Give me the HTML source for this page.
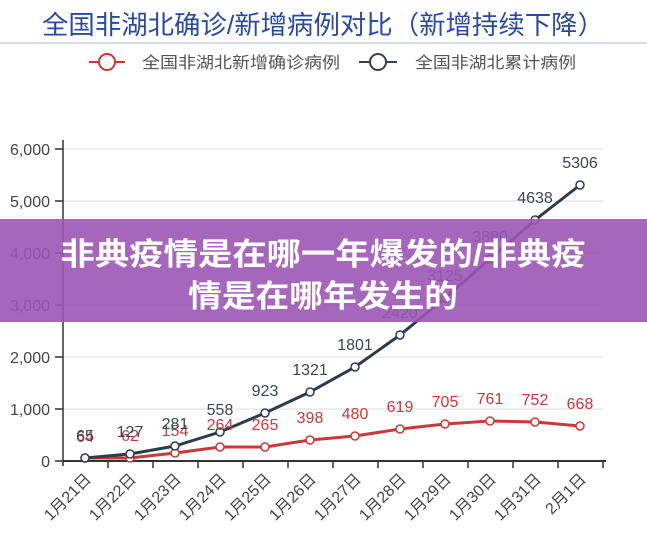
<!DOCTYPE html><html><head><meta charset="utf-8"><style>body{margin:0;width:647px;height:542px;overflow:hidden;background:#fff;font-family:"Liberation Sans","Noto Sans CJK SC",sans-serif}</style></head><body>
<svg width="647" height="542" xmlns="http://www.w3.org/2000/svg" font-family="Liberation Sans, Noto Sans CJK SC, sans-serif">
<rect width="647" height="542" fill="#fff"/>
<text x="323" y="34" text-anchor="middle" font-size="26" fill="#2b4a9b" textLength="562" lengthAdjust="spacingAndGlyphs">全国非湖北确诊/新增病例对比（新增持续下降）</text>
<line x1="0" y1="43" x2="647" y2="43" stroke="#c9d3e3" stroke-width="1.5"/>
<line x1="89" y1="62" x2="125" y2="62" stroke="#c83a3a" stroke-width="2"/><circle cx="107" cy="62" r="8" fill="#fff" stroke="#c83a3a" stroke-width="2"/>
<text x="142" y="68" font-size="16" fill="#555" textLength="198" lengthAdjust="spacingAndGlyphs">全国非湖北新增确诊病例</text>
<line x1="359" y1="62" x2="397" y2="62" stroke="#34404d" stroke-width="2"/><circle cx="378" cy="62" r="8" fill="#fff" stroke="#34404d" stroke-width="2"/>
<text x="415" y="68" font-size="16" fill="#555" textLength="161" lengthAdjust="spacingAndGlyphs">全国非湖北累计病例</text>
<g stroke="#ddd" stroke-width="1"><line x1="63" y1="149" x2="603" y2="149"/><line x1="63" y1="201" x2="603" y2="201"/><line x1="63" y1="253" x2="603" y2="253"/><line x1="63" y1="305" x2="603" y2="305"/><line x1="63" y1="357" x2="603" y2="357"/><line x1="63" y1="409" x2="603" y2="409"/></g>
<g font-size="16" fill="#444" text-anchor="end"><text x="50" y="155">6,000</text><text x="50" y="207">5,000</text><text x="50" y="259">4,000</text><text x="50" y="311">3,000</text><text x="50" y="363">2,000</text><text x="50" y="415">1,000</text><text x="50" y="467">0</text></g>
<g stroke="#333" stroke-width="1.5"><line x1="63" y1="140" x2="63" y2="466"/><line x1="55" y1="149" x2="63" y2="149"/><line x1="55" y1="201" x2="63" y2="201"/><line x1="55" y1="253" x2="63" y2="253"/><line x1="55" y1="305" x2="63" y2="305"/><line x1="55" y1="357" x2="63" y2="357"/><line x1="55" y1="409" x2="63" y2="409"/><line x1="55" y1="461" x2="63" y2="461"/>
<line x1="63" y1="461" x2="606" y2="461" stroke-width="2"/>
<line x1="108" y1="461" x2="108" y2="468"/><line x1="153" y1="461" x2="153" y2="468"/><line x1="198" y1="461" x2="198" y2="468"/><line x1="243" y1="461" x2="243" y2="468"/><line x1="288" y1="461" x2="288" y2="468"/><line x1="333" y1="461" x2="333" y2="468"/><line x1="378" y1="461" x2="378" y2="468"/><line x1="423" y1="461" x2="423" y2="468"/><line x1="468" y1="461" x2="468" y2="468"/><line x1="513" y1="461" x2="513" y2="468"/><line x1="558" y1="461" x2="558" y2="468"/><line x1="603" y1="461" x2="603" y2="468"/></g>
<polyline fill="none" stroke="#c83a3a" stroke-width="3" points="85,458 130,458 175,453 220,447 265,447 310,440 355,436 400,429 445,424 490,421 535,422 580,426"/>
<polyline fill="none" stroke="#2e3b4a" stroke-width="3" points="85,458 130,454 175,446 220,432 265,413 310,392 355,367 400,335 445,298 490,259 535,220 580,185"/>
<g fill="#fff" stroke="#c83a3a" stroke-width="1.5"><circle cx="85" cy="458" r="4"/><circle cx="130" cy="458" r="4"/><circle cx="175" cy="453" r="4"/><circle cx="220" cy="447" r="4"/><circle cx="265" cy="447" r="4"/><circle cx="310" cy="440" r="4"/><circle cx="355" cy="436" r="4"/><circle cx="400" cy="429" r="4"/><circle cx="445" cy="424" r="4"/><circle cx="490" cy="421" r="4"/><circle cx="535" cy="422" r="4"/><circle cx="580" cy="426" r="4"/></g>
<g fill="#fff" stroke="#2e3b4a" stroke-width="1.5"><circle cx="85" cy="458" r="4"/><circle cx="130" cy="454" r="4"/><circle cx="175" cy="446" r="4"/><circle cx="220" cy="432" r="4"/><circle cx="265" cy="413" r="4"/><circle cx="310" cy="392" r="4"/><circle cx="355" cy="367" r="4"/><circle cx="400" cy="335" r="4"/><circle cx="445" cy="298" r="4"/><circle cx="490" cy="259" r="4"/><circle cx="535" cy="220" r="4"/><circle cx="580" cy="185" r="4"/></g>
<g font-size="16" fill="#c83a3a" text-anchor="middle"><text x="85" y="442">64</text><text x="130" y="441">62</text><text x="175" y="436">154</text><text x="220" y="430">264</text><text x="265" y="430">265</text><text x="310" y="423">398</text><text x="355" y="419">480</text><text x="400" y="412">619</text><text x="445" y="407">705</text><text x="490" y="404">761</text><text x="535" y="405">752</text><text x="580" y="409">668</text></g>
<g font-size="16" fill="#3a4654" text-anchor="middle"><text x="85" y="441">65</text><text x="130" y="437">127</text><text x="175" y="429">281</text><text x="220" y="415">558</text><text x="265" y="396">923</text><text x="310" y="375">1321</text><text x="355" y="350">1801</text><text x="400" y="318">2420</text><text x="445" y="281">3125</text><text x="490" y="242">3880</text><text x="535" y="203">4638</text><text x="580" y="168">5306</text></g>
<g font-size="16" fill="#444" text-anchor="end">
<text transform="translate(92,480) rotate(-45)">1月21日</text><text transform="translate(137,480) rotate(-45)">1月22日</text><text transform="translate(182,480) rotate(-45)">1月23日</text><text transform="translate(227,480) rotate(-45)">1月24日</text><text transform="translate(272,480) rotate(-45)">1月25日</text><text transform="translate(317,480) rotate(-45)">1月26日</text><text transform="translate(362,480) rotate(-45)">1月27日</text><text transform="translate(407,480) rotate(-45)">1月28日</text><text transform="translate(452,480) rotate(-45)">1月29日</text><text transform="translate(497,480) rotate(-45)">1月30日</text><text transform="translate(542,480) rotate(-45)">1月31日</text><text transform="translate(587,480) rotate(-45)">2月1日</text></g>
<rect x="0" y="219" width="647" height="103" fill="#9b55b5" opacity="0.9"/>
<g font-size="31" font-weight="bold" fill="#fff" text-anchor="middle"><text x="323" y="265" textLength="525" lengthAdjust="spacingAndGlyphs">非典疫情是在哪一年爆发的/非典疫</text><text x="323" y="307" textLength="270" lengthAdjust="spacingAndGlyphs">情是在哪年发生的</text></g>
</svg></body></html>
